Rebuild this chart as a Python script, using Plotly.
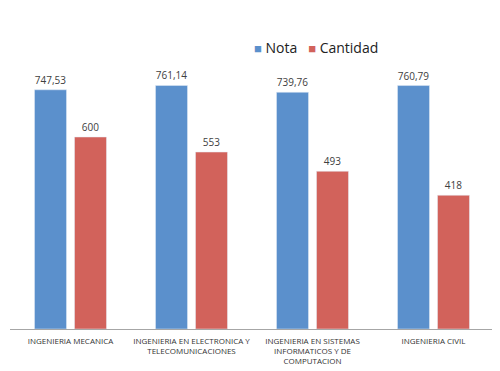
import plotly.graph_objects as go

categories = ["INGENIERIA MECANICA",
              "INGENIERIA EN ELECTRONICA Y<br>TELECOMUNICACIONES",
              "INGENIERIA EN SISTEMAS<br>INFORMATICOS Y DE<br>COMPUTACION",
              "INGENIERIA CIVIL"]
nota = [747.53, 761.14, 739.76, 760.79]
nota_labels = ["747,53", "761,14", "739,76", "760,79"]
cantidad = [600, 553, 493, 418]
cantidad_labels = ["600", "553", "493", "418"]
series_names = ["Nota", "Cantidad"]
series_colors = ["#5B90CC", "#D2625B"]

font_family = "Open Sans, Liberation Sans, sans-serif"

fig = go.Figure()
fig.add_trace(go.Bar(x=categories, y=nota, name=series_names[0], marker_color=series_colors[0],
                     text=nota_labels, textposition="outside", cliponaxis=False,
                     textfont=dict(size=10, color="#404040", family=font_family)))
fig.add_trace(go.Bar(x=categories, y=cantidad, name=series_names[1], marker_color=series_colors[1],
                     text=cantidad_labels, textposition="outside", cliponaxis=False,
                     textfont=dict(size=10, color="#404040", family=font_family)))

legend_text = "&nbsp;&nbsp;&nbsp;".join(
    f"<span style='color:{c};font-size:13px'>■</span> {n}" for n, c in zip(series_names, series_colors))

fig.update_layout(
    width=492, height=363,
    margin=dict(l=2, r=6, t=33, b=42, autoexpand=False),
    paper_bgcolor="white", plot_bgcolor="white",
    barmode="group", bargap=0.339, bargroupgap=0.2,
    showlegend=False,
    font=dict(family=font_family),
    annotations=[dict(text=legend_text, x=0.5, y=0.976, xref="paper", yref="paper",
                      xanchor="left", yanchor="middle", showarrow=False,
                      font=dict(size=14, color="#222222", family=font_family))],
)
fig.update_yaxes(range=[0, 900], visible=False, showgrid=False, automargin=False)
fig.update_xaxes(showline=True, linecolor="#A6A6A6", linewidth=1, ticks="",
                 tickfont=dict(size=8, color="#333333", family=font_family),
                 tickangle=0, automargin=False, ticklabelstandoff=4)

fig.write_html("out.html")
